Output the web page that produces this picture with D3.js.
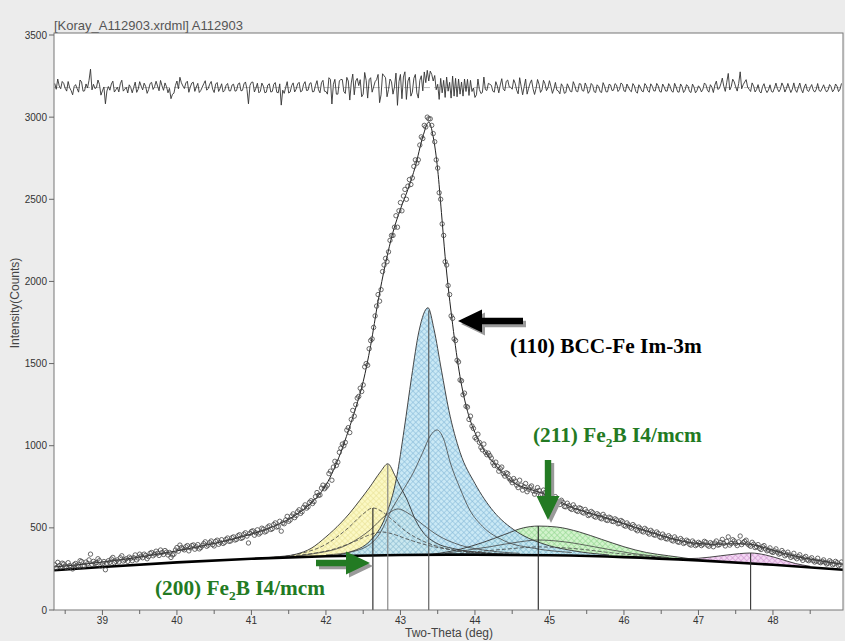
<!DOCTYPE html>
<html>
<head>
<meta charset="utf-8">
<script src="https://cdn.jsdelivr.net/npm/d3@7/dist/d3.min.js"></script>
<style>
  html, body { margin: 0; padding: 0; background: #ececec; }
  svg { display: block; }
</style>
</head>
<body>
<svg id="chart" width="845" height="641"></svg>
<script>
// ---- measured scan (2θ step scan, 0.02° step) ----
const obsStart = 38.36, obsStep = 0.02;
const obsCounts = [
  275, 258, 290, 270, 262, 285, 280, 266, 258, 288, 270, 262, 250, 276, 283, 272, 262, 300, 295, 268, 270, 292, 281, 305, 340, 278, 296, 284, 288, 312, 300, 268, 282,
  295, 245, 285, 300, 290, 310, 320, 288, 296, 305, 292, 318, 330, 298, 305, 312, 296, 322, 315, 300, 318, 335, 305, 316, 340, 328, 318, 340, 332, 312, 325, 345, 350, 330, 340, 358, 345, 332, 365, 350, 338, 362, 352, 335, 350, 320, 335, 340, 365, 380,
  358, 395, 380, 372, 366, 385, 392, 360, 378, 392, 396, 370, 385, 398, 372, 380, 392, 404, 415, 388, 395, 410, 420, 398, 390, 418, 425, 400, 412, 428, 405, 412, 430, 438, 418, 420, 440, 445, 426, 430, 452, 458, 436, 440, 462, 470, 450, 408, 466, 478,
  482, 455, 470, 488, 462, 470, 498, 492, 475, 480, 505, 512, 490, 495, 520, 530, 505, 508, 540, 480, 530, 525, 548, 570, 540, 548, 572, 585, 562, 575, 598, 610, 588, 598, 625, 640, 620, 628, 655, 665, 648, 660, 690, 715, 698, 700, 742, 760, 738, 748,
  760, 830, 845, 790, 870, 905, 880, 900, 960, 985, 1010, 1000, 1020, 1095, 1110, 1080, 1160, 1215, 1180, 1250, 1290, 1300, 1350, 1330, 1370, 1480, 1500, 1490, 1590, 1640, 1650, 1720, 1790, 1850, 1920, 1880, 1950, 2060, 2100, 2140, 2120, 2180, 2250, 2280, 2280, 2330, 2400, 2330, 2430, 2480,
  2430, 2520, 2560, 2500, 2580, 2620, 2590, 2630, 2700, 2740, 2720, 2740, 2830, 2880, 2870, 2950, 2940, 3000, 2990, 2990,
  2950, 2900, 2850, 2740, 2690, 2540, 2500, 2350, 2280, 2120, 2100, 1975, 1920, 1790, 1775, 1650, 1640, 1520, 1510, 1400, 1395, 1310, 1320, 1240, 1235, 1160, 1180, 1120, 1105, 1050,
  1040, 1070, 1020, 990, 975, 1010, 960, 945, 955, 940, 925, 895, 880, 900, 875, 845, 860, 870, 830, 815, 835, 830, 800, 790, 775, 800, 785, 760, 745, 790, 760, 730, 750, 770, 720, 735, 748, 755, 725, 705, 720, 745, 728, 700, 705, 730, 715, 690, 695, 712,
  690, 665, 675, 690, 662, 655, 642, 668, 655, 630, 628, 650, 635, 618, 612, 640, 625, 605, 600, 622, 618, 595, 590, 612, 598, 575, 580, 600, 592, 570, 565, 586, 578, 560, 555, 582, 568, 548, 545, 565, 560, 540, 538, 555, 548, 525, 528, 545, 538, 515,
  510, 530, 518, 505, 498, 520, 510, 490, 482, 505, 495, 480, 475, 497, 488, 470, 462, 485, 475, 458, 455, 475, 465, 445, 440, 462, 450, 435, 432, 452, 442, 425, 420, 445, 432, 415, 412, 435, 425, 405, 410, 425, 418, 400, 395, 420, 410, 392, 398, 412,
  405, 392, 400, 418, 412, 395, 388, 410, 402, 385, 408, 420, 395, 398, 412, 430, 405, 390, 418, 445, 395, 405, 428, 420, 405, 392, 415, 450, 398, 410, 418, 425, 402, 395, 388, 412, 400, 380, 385, 398, 375, 368, 385, 392, 372, 360, 365, 378, 355, 350,
  360, 372, 352, 340, 345, 362, 350, 330, 338, 352, 335, 320, 328, 345, 322, 312, 325, 336, 315, 302, 318, 326, 305, 300, 310, 318, 300, 292, 298, 315, 292, 288, 296, 305, 290, 280, 285, 300, 292, 275, 280, 296, 288, 270, 276, 292
];

// ---- calculated profile (sum) ----
const fitTheta  = [38.35, 38.6, 39.0, 39.5, 40.0, 40.5, 41.0, 41.3, 41.6, 41.8, 42.0, 42.2, 42.3, 42.4, 42.5, 42.6, 42.7, 42.8, 42.9, 43.0, 43.1, 43.2, 43.3, 43.38, 43.44, 43.5, 43.55, 43.6, 43.7, 43.8, 43.9, 44.0, 44.1, 44.3, 44.5, 44.7, 44.9, 45.1, 45.3, 45.5, 45.7, 46.0, 46.3, 46.6, 46.9, 47.2, 47.5, 47.7, 47.9, 48.1, 48.4, 48.7, 48.94];
const fitCounts = [262, 272, 292, 322, 360, 405, 462, 510, 580, 650, 760, 960, 1090, 1230, 1390, 1610, 1880, 2110, 2300, 2440, 2560, 2700, 2880, 2970, 2880, 2680, 2420, 2150, 1740, 1420, 1210, 1080, 990, 870, 780, 740, 712, 670, 625, 595, 570, 525, 482, 440, 410, 400, 403, 400, 378, 350, 318, 295, 278];

// ---- background ----
const bgTheta  = [38.35, 39, 40, 41, 42, 43, 44, 45, 46, 47, 48, 48.94];
const bgCounts = [242, 262, 290, 312, 327, 335, 337, 333, 322, 302, 275, 245];

// ---- fitted phase peaks ----
const yellowTheta  = [41.0, 41.3, 41.6, 41.8, 42.0, 42.2, 42.32, 42.45, 42.59, 42.73, 42.83, 42.93, 43.0, 43.09, 43.2, 43.3, 43.49, 43.7, 43.9, 44.2, 44.6];
const yellowCounts = [312, 322, 340, 375, 445, 530, 590, 665, 749, 840, 890, 815, 750, 670, 550, 475, 405, 375, 358, 345, 338];

const blueTheta  = [42.0, 42.3, 42.6, 42.8, 42.95, 43.05, 43.15, 43.25, 43.37, 43.45, 43.55, 43.65, 43.8, 44.0, 44.25, 44.55, 44.9, 45.3, 45.8];
const blueCounts = [327, 350, 425, 570, 810, 1100, 1420, 1700, 1840, 1710, 1460, 1215, 960, 770, 600, 480, 405, 362, 335];

const greenTheta  = [43.4, 43.8, 44.1, 44.4, 44.65, 44.85, 45.1, 45.4, 45.7, 46.0, 46.3, 46.6, 47.0];
const greenCounts = [337, 370, 410, 460, 500, 511, 505, 475, 430, 385, 350, 330, 305];

const pinkTheta  = [46.6, 47.0, 47.3, 47.55, 47.7, 47.9, 48.1, 48.3, 48.5];
const pinkCounts = [310, 315, 330, 343, 347, 335, 310, 283, 266];

// ---- individual profile lines inside the phase peaks ----
const subATheta  = [41.3, 41.6, 42.0, 42.3, 42.5, 42.63, 42.75, 42.9, 43.1, 43.3, 43.6, 44.0, 44.5];
const subACounts = [320, 338, 400, 500, 585, 621, 600, 545, 470, 420, 375, 350, 340];
const subBTheta  = [41.5, 41.8, 42.3, 42.6, 42.8, 42.97, 43.1, 43.3, 43.5, 43.8, 44.2, 44.6];
const subBCounts = [322, 340, 400, 490, 575, 615, 590, 520, 455, 395, 360, 345];
const subCTheta  = [41.2, 41.6, 42.1, 42.4, 42.6, 42.75, 42.9, 43.1, 43.4, 43.8, 44.3];
const subCCounts = [316, 332, 370, 420, 460, 475, 462, 430, 390, 360, 345];
const feBroadTheta  = [42.0, 42.4, 42.7, 42.9, 43.05, 43.17, 43.3, 43.4, 43.49, 43.58, 43.67, 43.8, 43.93, 44.1, 44.4, 44.8, 45.3];
const feBroadCounts = [335, 360, 450, 627, 740, 834, 960, 1060, 1096, 1040, 895, 740, 609, 510, 420, 375, 350];
const greenSub1Theta  = [43.6, 44.2, 44.6, 44.85, 45.2, 45.6, 46.1, 46.6];
const greenSub1Counts = [345, 385, 415, 426, 415, 385, 345, 320];
const greenSub2Theta  = [43.8, 44.4, 44.85, 45.3, 45.9, 46.5];
const greenSub2Counts = [345, 370, 384, 375, 345, 322];

// ---- peak position markers ----
const markerTheta = [42.63, 42.83, 43.38, 44.85, 47.70];
const markerColor = ["#222", "#808080", "#555", "#222", "#333"];

// ---- axes ----
const yTicks = [0, 500, 1000, 1500, 2000, 2500, 3000, 3500];
const xTicks = [39, 40, 41, 42, 43, 44, 45, 46, 47, 48];
const xMinorTicks = [38.5, 39.5, 40.5, 41.5, 42.5, 43.5, 44.5, 45.5, 46.5, 47.5, 48.5];
const diffOffset = 3180, diffScale = 2.0;

const plot = { left: 54, right: 843, top: 33, bottom: 610 };
const x = d3.scaleLinear().domain([38.35, 48.94]).range([plot.left, plot.right]);
const y = d3.scaleLinear().domain([0, 3500]).range([plot.bottom, 35]);

const svg = d3.select("#chart");

function lin(xs, ys, t) {
  if (t <= xs[0]) return ys[0];
  if (t >= xs[xs.length - 1]) return ys[ys.length - 1];
  let i = 1;
  while (xs[i] < t) i++;
  const f = (t - xs[i - 1]) / (xs[i] - xs[i - 1]);
  return ys[i - 1] + f * (ys[i] - ys[i - 1]);
}
const bgAt = t => lin(bgTheta, bgCounts, t);
const fitAt = t => lin(fitTheta, fitCounts, t);

// hatch patterns for the phase peaks
const defs = svg.append("defs");
function hatch(id, base, line) {
  const p = defs.append("pattern").attr("id", id).attr("patternUnits", "userSpaceOnUse")
    .attr("width", 4).attr("height", 4).attr("patternTransform", "rotate(45)");
  p.append("rect").attr("width", 4).attr("height", 4).attr("fill", base);
  p.append("line").attr("x1", 0).attr("y1", 0).attr("x2", 4).attr("y2", 0).attr("stroke", line).attr("stroke-width", 1.2);
  p.append("line").attr("x1", 0).attr("y1", 0).attr("x2", 0).attr("y2", 4).attr("stroke", line).attr("stroke-width", 1.2);
}
hatch("hYellow", "#fbf7bd", "#e6de8c");
hatch("hBlue", "#c4e6f4", "#7db5d6");
hatch("hGreen", "#cdf2c6", "#86d183");
hatch("hPink", "#f3d2f3", "#c98ac9");
defs.append("clipPath").attr("id", "clip").append("rect")
  .attr("x", plot.left).attr("y", plot.top).attr("width", plot.right - plot.left).attr("height", plot.bottom - plot.top);

// title
svg.append("text").attr("x", 54).attr("y", 30).attr("font-family", "Liberation Sans, Arial, sans-serif")
  .attr("font-size", 13).attr("fill", "#555").text("[Koray_A112903.xrdml] A112903");

// plot area
svg.append("rect").attr("x", plot.left).attr("y", plot.top).attr("width", plot.right - plot.left)
  .attr("height", plot.bottom - plot.top).attr("fill", "#fff");

const g = svg.append("g").attr("clip-path", "url(#clip)");

function pairs(ts, vs) { return ts.map((t, i) => [t, Math.max(vs[i], bgAt(t))]); }
const area = d3.area().x(d => x(d[0])).y0(d => y(bgAt(d[0]))).y1(d => y(d[1])).curve(d3.curveMonotoneX);
const line = d3.line().x(d => x(d[0])).y(d => y(d[1])).curve(d3.curveMonotoneX);

const fills = [
  [yellowTheta, yellowCounts, "url(#hYellow)"],
  [greenTheta, greenCounts, "url(#hGreen)"],
  [pinkTheta, pinkCounts, "url(#hPink)"],
  [blueTheta, blueCounts, "url(#hBlue)"]
];
fills.forEach(([ts, vs, f]) => {
  g.append("path").datum(pairs(ts, vs)).attr("d", area).attr("fill", f).attr("opacity", 0.9);
});
// envelope outlines
[[yellowTheta, yellowCounts], [blueTheta, blueCounts], [greenTheta, greenCounts], [pinkTheta, pinkCounts]].forEach(([ts, vs]) => {
  g.append("path").datum(pairs(ts, vs)).attr("d", line).attr("fill", "none").attr("stroke", "#333").attr("stroke-width", 0.9);
});
// component lines
[[subATheta, subACounts, "4,2"], [subCTheta, subCCounts, "4,2"], [subBTheta, subBCounts, null],
 [feBroadTheta, feBroadCounts, null], [greenSub1Theta, greenSub1Counts, null], [greenSub2Theta, greenSub2Counts, "4,2"]]
  .forEach(([ts, vs, dash]) => {
    g.append("path").datum(pairs(ts, vs)).attr("d", line).attr("fill", "none")
      .attr("stroke", "#444").attr("stroke-width", 0.8).attr("stroke-dasharray", dash);
  });

// background
g.append("path").datum(bgTheta.map((t, i) => [t, bgCounts[i]])).attr("d", line)
  .attr("fill", "none").attr("stroke", "#000").attr("stroke-width", 2.6);

// calculated profile
g.append("path").datum(fitTheta.map((t, i) => [t, fitCounts[i]])).attr("d", line)
  .attr("fill", "none").attr("stroke", "#222").attr("stroke-width", 1);

// observed points
const obs = obsCounts.map((v, i) => [obsStart + i * obsStep, v]);
g.selectAll("circle.obs").data(obs).enter().append("circle").attr("class", "obs")
  .attr("cx", d => x(d[0])).attr("cy", d => y(d[1])).attr("r", 2.2)
  .attr("fill", "none").attr("stroke", "#444").attr("stroke-width", 0.8);

// peak position markers
const markerSource = [[subATheta, subACounts], [yellowTheta, yellowCounts], [blueTheta, blueCounts], [greenTheta, greenCounts], [pinkTheta, pinkCounts]];
markerTheta.forEach((t, i) => {
  const [ts, vs] = markerSource[i];
  g.append("line").attr("x1", x(t)).attr("x2", x(t)).attr("y1", y(lin(ts, vs, t))).attr("y2", plot.bottom)
    .attr("stroke", markerColor[i]).attr("stroke-width", 1.1);
});

// difference curve (observed − calculated, offset)
g.append("line").attr("x1", plot.left).attr("x2", plot.right).attr("y1", y(diffOffset)).attr("y2", y(diffOffset))
  .attr("stroke", "#aaa").attr("stroke-dasharray", "6,4").attr("stroke-width", 0.8);
const diff = obs.map(d => [d[0], diffOffset + diffScale * (d[1] - fitAt(d[0]))]);
g.append("path").datum(diff).attr("d", d3.line().x(d => x(d[0])).y(d => y(d[1])))
  .attr("fill", "none").attr("stroke", "#333").attr("stroke-width", 0.9);

// frame
svg.append("rect").attr("x", plot.left).attr("y", plot.top).attr("width", plot.right - plot.left)
  .attr("height", plot.bottom - plot.top).attr("fill", "none").attr("stroke", "#777").attr("stroke-width", 1);

// y axis
const font = "Liberation Sans, Arial, sans-serif";
const yAxis = svg.append("g");
yTicks.forEach(v => {
  yAxis.append("line").attr("x1", plot.left - 5).attr("x2", plot.left).attr("y1", y(v)).attr("y2", y(v)).attr("stroke", "#666");
  yAxis.append("text").attr("x", plot.left - 7).attr("y", y(v) + 3.5).attr("text-anchor", "end")
    .attr("font-family", font).attr("font-size", 10).attr("fill", "#333").text(v);
});
svg.append("text").attr("transform", "translate(19,303) rotate(-90)").attr("text-anchor", "middle")
  .attr("font-family", font).attr("font-size", 12).attr("fill", "#444").text("Intensity(Counts)");

// x axis
const xAxis = svg.append("g");
xTicks.forEach(t => {
  xAxis.append("line").attr("x1", x(t)).attr("x2", x(t)).attr("y1", plot.bottom).attr("y2", plot.bottom + 5).attr("stroke", "#666");
  xAxis.append("text").attr("x", x(t)).attr("y", 624).attr("text-anchor", "middle")
    .attr("font-family", font).attr("font-size", 10).attr("fill", "#333").text(t);
});
xMinorTicks.forEach(t => {
  xAxis.append("line").attr("x1", x(t)).attr("x2", x(t)).attr("y1", plot.bottom).attr("y2", plot.bottom + 4).attr("stroke", "#666");
});
svg.append("text").attr("x", 449).attr("y", 637).attr("text-anchor", "middle")
  .attr("font-family", font).attr("font-size", 12).attr("fill", "#444").text("Two-Theta (deg)");

// ---- annotations ----
const serif = "Liberation Serif, Times New Roman, serif";
function arrow(tipX, tipY, len, dir, color) {
  const sw = 3.2, hw = 11.5, hl = 24;
  let pts;
  if (dir === "left")  pts = [[0,0],[hl,-hw],[hl,-sw],[len,-sw],[len,sw],[hl,sw],[hl,hw]];
  if (dir === "right") pts = [[0,0],[-hl,-hw],[-hl,-sw],[-len,-sw],[-len,sw],[-hl,sw],[-hl,hw]];
  if (dir === "down")  pts = [[0,0],[-hw,-hl],[-sw,-hl],[-sw,-len],[sw,-len],[sw,-hl],[hw,-hl]];
  const p = pts.map(q => [tipX + q[0], tipY + q[1]]);
  svg.append("polygon").attr("points", p.map(q => [q[0] + 3, q[1] + 3].join(",")).join(" ")).attr("fill", "#9a9a9a");
  svg.append("polygon").attr("points", p.map(q => q.join(",")).join(" ")).attr("fill", color);
}
const green = "#237a23";
arrow(458, 321, 65, "left", "#000");
arrow(370, 563, 54, "right", green);
arrow(548, 520, 60, "down", green);

svg.append("text").attr("x", 510).attr("y", 353).attr("font-family", serif).attr("font-weight", "bold")
  .attr("font-size", 21.3).attr("fill", "#000").text("(110) BCC-Fe Im-3m");

function feLabel(x0, y0, hkl) {
  const t = svg.append("text").attr("x", x0).attr("y", y0).attr("font-family", serif).attr("font-weight", "bold")
    .attr("font-size", 21.3).attr("fill", green);
  t.append("tspan").text(hkl + " Fe");
  t.append("tspan").attr("font-size", 13.5).attr("dy", 5).text("2");
  t.append("tspan").attr("dy", -5).text("B I4/mcm");
}
feLabel(533, 442, "(211)");
feLabel(155, 595, "(200)");
</script>
</body>
</html>
